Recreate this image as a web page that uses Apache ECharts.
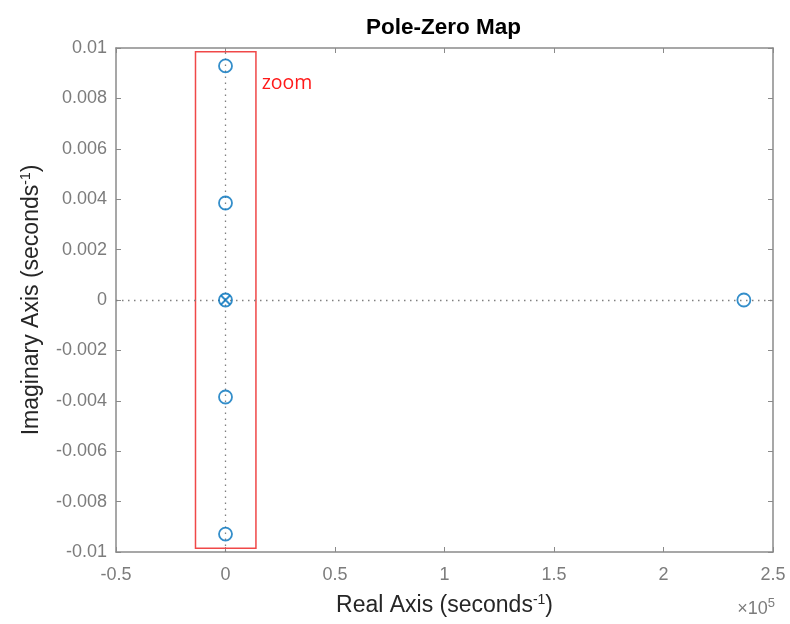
<!DOCTYPE html>
<html>
<head>
<meta charset="utf-8">
<script src="https://cdn.jsdelivr.net/npm/echarts@6/dist/echarts.min.js"></script>
<style>
  html, body { margin: 0; padding: 0; background: #fff; }
  #chart { width: 790px; height: 624px; }
</style>
</head>
<body>
<div id="chart"></div>
<script>
// Zeros (o) and poles (x) of the system, real part in s^-1, imaginary part in s^-1
const zeroRe = [0, 0, 0, 0, 0, 236700];
const zeroIm = [0.00929, 0.00385, 0, -0.00385, -0.00929, 0];
const poleRe = [0];
const poleIm = [0];

// Highlighted region around the imaginary axis
const zoomRe = [-13700, 13900];
const zoomIm = [-0.00985, 0.00985];
const zoomNote = 'zoom';
const zoomNoteAt = [16500, 0.0086];

// Axis ranges
const xRange = [-50000, 250000, 50000];
const yRange = [-0.01, 0.01, 0.002];

const FONT = '"Liberation Sans", Arial, Helvetica, sans-serif';
const BLUE = '#0072BD';
const AXIS_GREY = '#8a8a8a';
const LABEL_GREY = '#7c7c7c';

const zeroData = zeroRe.map((re, i) => [re, zeroIm[i]]);
const poleData = poleRe.map((re, i) => [re, poleIm[i]]);

const chart = echarts.init(document.getElementById('chart'), null, { renderer: 'canvas' });

const axisCommon = {
  type: 'value',
  splitLine: { show: false },
  axisLine: { show: true, onZero: false, lineStyle: { color: AXIS_GREY, width: 1.5 } },
  axisTick: { show: true, inside: true, length: 5, lineStyle: { color: AXIS_GREY, width: 1 } }
};

const fmtX = v => String(parseFloat((v / 1e5).toFixed(2)));
const fmtY = v => String(parseFloat(v.toFixed(4)));

const nameRich = {
  n: { fontFamily: FONT, fontSize: 23, color: '#262626', lineHeight: 26 },
  s: { fontFamily: FONT, fontSize: 14, color: '#262626', verticalAlign: 'top', lineHeight: 15 }
};

const option = {
  animation: false,
  backgroundColor: '#fff',
  title: {
    text: 'Pole-Zero Map',
    left: 361,
    top: 11,
    textStyle: { fontFamily: FONT, fontSize: 22.5, fontWeight: 'bold', color: '#000' }
  },
  grid: { left: 116, right: 17, top: 48, bottom: 72, containLabel: false },
  xAxis: [
    Object.assign({}, axisCommon, {
      position: 'bottom',
      min: xRange[0], max: xRange[1], interval: xRange[2],
      axisLabel: { margin: 14, fontFamily: FONT, fontSize: 18, color: LABEL_GREY, formatter: fmtX },
      name: '{n|Real Axis (seconds}{s|-1}{n|)}',
      nameLocation: 'middle',
      nameGap: 41,
      nameTextStyle: { rich: nameRich }
    }),
    Object.assign({}, axisCommon, {
      position: 'top',
      min: xRange[0], max: xRange[1], interval: xRange[2],
      axisLabel: { show: false }
    })
  ],
  yAxis: [
    Object.assign({}, axisCommon, {
      position: 'left',
      min: yRange[0], max: yRange[1], interval: yRange[2],
      axisLabel: { margin: 9, fontFamily: FONT, fontSize: 18, color: LABEL_GREY, formatter: fmtY },
      name: '{n|Imaginary Axis (seconds}{s|-1}{n|)}',
      nameLocation: 'middle',
      nameRotate: 90,
      nameGap: 71,
      nameTextStyle: { rich: nameRich }
    }),
    Object.assign({}, axisCommon, {
      position: 'right',
      min: yRange[0], max: yRange[1], interval: yRange[2],
      axisLabel: { show: false }
    })
  ],
  graphic: [{
    type: 'text',
    right: 15,
    top: 597,
    style: {
      text: '{a|×10}{b|5}',
      rich: {
        a: { fontFamily: FONT, fontSize: 18, fill: LABEL_GREY, lineHeight: 24 },
        b: { fontFamily: FONT, fontSize: 13, fill: LABEL_GREY, verticalAlign: 'top', lineHeight: 13 }
      }
    }
  }],
  series: [
    {
      name: 'Zeros',
      type: 'scatter',
      xAxisIndex: 0, yAxisIndex: 0,
      data: zeroData,
      symbol: 'circle',
      symbolSize: 13,
      z: 5,
      itemStyle: { color: 'rgba(0,0,0,0)', borderColor: BLUE, borderWidth: 1.8 },
      markLine: {
        silent: true,
        symbol: ['none', 'none'],
        label: { show: false },
        lineStyle: { color: '#808080', width: 1.3, type: [1.5, 4.5] },
        emphasis: { disabled: true },
        data: [{ yAxis: 0 }, { xAxis: 0 }]
      },
      markArea: {
        silent: true,
        itemStyle: { color: 'rgba(0,0,0,0)', borderColor: '#f04848', borderWidth: 1.5 },
        label: { show: false },
        data: [[{ coord: [zoomRe[0], zoomIm[1]] }, { coord: [zoomRe[1], zoomIm[0]] }]]
      },
      markPoint: {
        silent: true,
        symbol: 'circle',
        symbolSize: 0,
        label: {
          show: true,
          position: 'right',
          distance: 0,
          formatter: zoomNote,
          fontFamily: '"Open Sans", "DejaVu Sans", sans-serif',
          fontSize: 19.5,
          color: '#ff1a1a'
        },
        data: [{ coord: zoomNoteAt }]
      }
    },
    {
      name: 'Poles',
      type: 'scatter',
      xAxisIndex: 0, yAxisIndex: 0,
      data: poleData,
      symbol: 'path://M0,0L10,10M10,0L0,10',
      symbolSize: 9,
      z: 6,
      itemStyle: { color: 'rgba(0,0,0,0)', borderColor: BLUE, borderWidth: 2 }
    }
  ]
};

chart.setOption(option);
</script>
</body>
</html>
